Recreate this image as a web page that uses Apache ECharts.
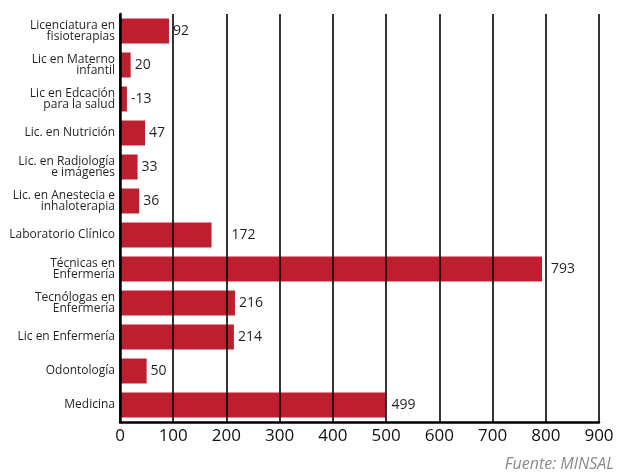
<!DOCTYPE html>
<html>
<head>
<meta charset="utf-8">
<script src="https://cdn.jsdelivr.net/npm/echarts@6/dist/echarts.min.js"></script>
<style>
html,body{margin:0;padding:0;background:#fff;}
#c{width:618px;height:475px;}
</style>
</head>
<body>
<div id="c"></div>
<script>
const categories = [
  'Licenciatura en\nfisioterapias',
  'Lic en Materno\ninfantil',
  'Lic en Edcación\npara la salud',
  'Lic. en Nutrición',
  'Lic. en Radiología\ne imágenes',
  'Lic. en Anestecia e\ninhaloterapia',
  'Laboratorio Clínico',
  'Técnicas en\nEnfermería',
  'Tecnólogas en\nEnfermería',
  'Lic en Enfermería',
  'Odontología',
  'Medicina'
];
const values = [92, 20, 13, 47, 33, 36, 172, 793, 216, 214, 50, 499];
const valueLabels = ['92', '20', '-13', '47', '33', '36', '172', '793', '216', '214', '50', '499'];
const xTicks = [0, 100, 200, 300, 400, 500, 600, 700, 800, 900];

const FONT = '"Open Sans", "DejaVu Sans", sans-serif';
const chart = echarts.init(document.getElementById('c'), null, {renderer: 'canvas'});

const labelDistance = {'Laboratorio Clínico': 20, 'Técnicas en\nEnfermería': 9, 'Medicina': 6};

chart.setOption({
  animation: false,
  backgroundColor: '#ffffff',
  grid: {left: 120, right: 19, top: 14, bottom: 53, containLabel: false},
  xAxis: {
    type: 'value',
    min: xTicks[0],
    max: xTicks[xTicks.length - 1],
    interval: 100,
    z: 3,
    axisLine: {show: true, lineStyle: {color: '#000', width: 2.5}},
    axisTick: {show: false},
    splitLine: {show: true, lineStyle: {color: '#000', width: 1.6}},
    axisLabel: {color: '#111', fontSize: 17, fontFamily: FONT, margin: 6}
  },
  yAxis: {
    type: 'category',
    inverse: true,
    data: categories,
    z: 3,
    axisLine: {show: true, lineStyle: {color: '#000', width: 2.5}},
    axisTick: {show: false},
    splitLine: {show: false},
    axisLabel: {color: '#231f20', fontSize: 12, fontFamily: FONT, lineHeight: 10.5, margin: 5}
  },
  series: [{
    type: 'bar',
    barWidth: 25,
    itemStyle: {color: '#BE1E2E'},
    data: values.map((v, i) => ({
      value: v,
      label: {distance: labelDistance[categories[i]] || 4}
    })),
    label: {
      show: true,
      position: 'right',
      color: '#231f20',
      fontSize: 14,
      fontFamily: FONT,
      formatter: p => valueLabels[p.dataIndex]
    }
  }],
  graphic: [{
    type: 'text',
    right: 4,
    top: 456,
    style: {text: 'Fuente: MINSAL', fill: '#8a8a8a', font: 'italic 16px ' + FONT}
  }]
});
</script>
</body>
</html>
